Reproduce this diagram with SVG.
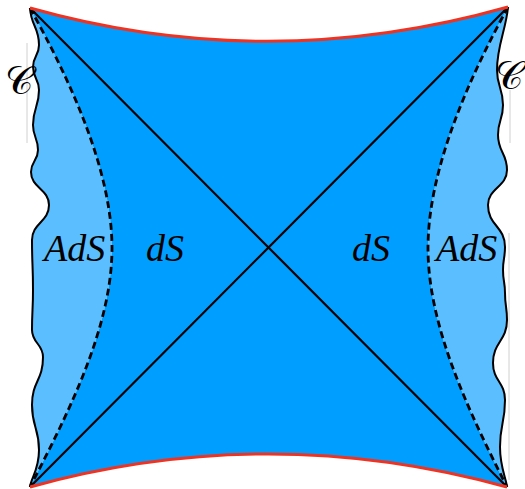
<svg xmlns="http://www.w3.org/2000/svg" width="525" height="489" viewBox="0 0 525 489">
<style>
.lab{font-family:"Liberation Serif","Times New Roman",serif;font-style:italic;font-size:38px;fill:#000}
.scr{font-family:"DejaVu Serif","DejaVu Sans","Noto Sans",serif;font-size:39px;fill:#000}
.wave{fill:none;stroke:#000;stroke-width:2}
.dash{fill:none;stroke:#000;stroke-width:2.8;stroke-dasharray:7 4}
.diag{stroke:#000;stroke-width:2.2}
.red{fill:none;stroke:#ee3322;stroke-width:3}
.light{fill:#5bbfff}
.dark{fill:#009fff}
.edge{stroke:#d0d0d0;stroke-width:1}
</style>
<defs>
<path id="lw" d="M30,8 C31,26 39,27 39,45 C39,56 33,56 33,67 C33,78 39,79 39,90 C39,107 33,108 33,125 C33,137 38,138 38,150 C38,161 31,161 31,172 C31,188 49,189 49,205 C49,222 32,223 32,240 C32,265 33,265 33,290 C33,310 32,310 32,330 C32,343 43,344 43,357 C43,381 32,381 32,405 C32,427 39,428 39,450 C39,470 31,478 30,487"/>
<path id="rw" d="M508,7 C506,30 497,45 497,70 C497,87 503,88 503,105 C503,120 498,120 498,135 C498,152 507,153 507,170 C507,187 488,188 488,205 C488,226 505,226 505,247 C505,258 503,259 503,270 C503,281 505,282 505,293 C505,306 507,307 507,320 C507,341 493,342 493,363 C493,381 505,382 505,400 C505,423 500,424 500,447 C500,467 506,478 507,487"/>
</defs>
<g id="regions">
<path id="ads-left" class="light" d="M30,8 C31,26 39,27 39,45 C39,56 33,56 33,67 C33,78 39,79 39,90 C39,107 33,108 33,125 C33,137 38,138 38,150 C38,161 31,161 31,172 C31,188 49,189 49,205 C49,222 32,223 32,240 C32,265 33,265 33,290 C33,310 32,310 32,330 C32,343 43,344 43,357 C43,381 32,381 32,405 C32,427 39,428 39,450 C39,470 31,478 30,487 C70,410 112,326 112,248 C112,170 70,80 30,8 Z"/>
<path id="ads-right" class="light" d="M508,7 C506,30 497,45 497,70 C497,87 503,88 503,105 C503,120 498,120 498,135 C498,152 507,153 507,170 C507,187 488,188 488,205 C488,226 505,226 505,247 C505,258 503,259 503,270 C503,281 505,282 505,293 C505,306 507,307 507,320 C507,341 493,342 493,363 C493,381 505,382 505,400 C505,423 500,424 500,447 C500,467 506,478 507,487 C468,410 428,326 428,248 C428,170 468,80 508,7 Z"/>
<path id="ds" class="dark" d="M30,8 Q268,75 508,7 C468,80 428,170 428,248 C428,326 468,410 507,487 Q268,421 30,487 C70,410 112,326 112,248 C112,170 70,80 30,8 Z"/>
</g>
<g id="edges">
<line class="edge" x1="27" y1="43" x2="27" y2="143"/>
<line class="edge" x1="510" y1="90" x2="510" y2="143"/>
<line class="edge" x1="509" y1="233" x2="509" y2="480"/>
</g>
<g id="connectors">
<use href="#lw" class="wave"/>
<use href="#rw" class="wave"/>
<path class="dash" d="M30,8 C70,80 112,170 112,248 C112,326 70,410 30,487"/>
<path class="dash" d="M508,7 C468,80 428,170 428,248 C428,326 468,410 507,487"/>
<line class="diag" x1="30" y1="8" x2="507" y2="487"/>
<line class="diag" x1="508" y1="7" x2="30" y2="487"/>
<path class="red" d="M30,8 Q268,75 508,7"/>
<path class="red" d="M30,487 Q268,421 507,487"/>
</g>
<g id="labels">
<text class="lab" x="44" y="261">AdS</text>
<text class="lab" x="146" y="261">dS</text>
<text class="lab" x="352" y="261">dS</text>
<text class="lab" x="436" y="261">AdS</text>
<text class="scr" x="5" y="94">𝒞</text>
<text class="scr" x="495" y="89">𝒞</text>
</g>
</svg>
